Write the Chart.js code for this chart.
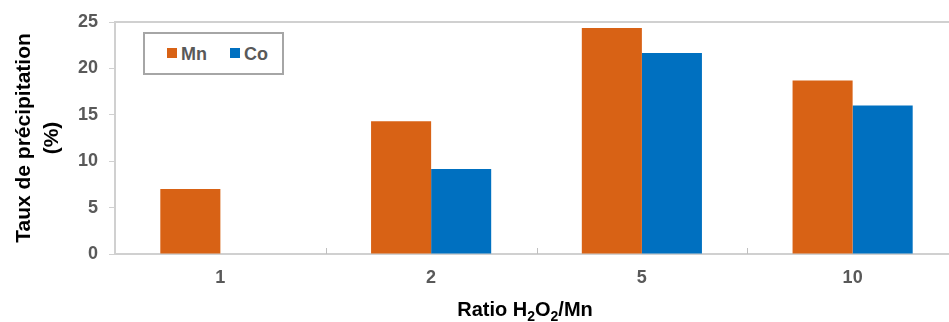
<!DOCTYPE html>
<html>
<head>
<meta charset="utf-8">
<script src="https://cdn.jsdelivr.net/npm/chart.js@4"></script>
<style>
    body { margin: 0; background: #fff; overflow: hidden; }
    #wrap { position: relative; width: 960px; height: 322px; }
    #legend {
        position: absolute; left: 143px; top: 32px; width: 137px; height: 39px;
        border: 2px solid #a6a6a6; background: #fff;
        font: bold 18px "Liberation Sans", Arial, sans-serif; color: #595959;
    }
    #legend span { position: absolute; top: 10px; line-height: normal; }
    #legend i { position: absolute; top: 14px; width: 10px; height: 10px; }
</style>
</head>
<body>
<div id="wrap">
    <canvas id="cnvChart"></canvas>
    <div id="legend"></div>
</div>
<script>
/**
 * DATA
 */
const categories = ['1', '2', '5', '10'];
const mnValues = [7.0, 14.3, 24.35, 18.7];
const coValues = [null, 9.15, 21.65, 16.0];
const yTicks = [0, 5, 10, 15, 20, 25];
const seriesNames = ['Mn', 'Co'];
const seriesColors = ['#d86215', '#0070c0'];
const yTitle = ['Taux de précipitation', '(%)'];
const xTitle = ['Ratio H', '2', 'O', '2', '/Mn'];

const FONT = '"Liberation Sans", Arial, sans-serif';
const AXIS_GREY = '#d0d0d0';

/**
 * fills html legend with series names
 */
function FillLegend() {
    let legend = document.querySelector("#legend");
    let lefts = [22, 85];
    let html = "";
    for (let i = 0; i < seriesNames.length; i++) {
        html += `<i style="left:${lefts[i]}px;background:${seriesColors[i]}"></i>`;
        html += `<span style="left:${lefts[i] + 14}px">${seriesNames[i]}</span>`;
    }
    legend.innerHTML = html;
}

/**
 * draws top border, inner x ticks and x axis title with subscripts
 */
const framePlugin = {
    id: 'frame',
    afterDraw(chart) {
        let ctx = chart.ctx;
        let area = chart.chartArea;
        let x = chart.scales.x;
        ctx.save();
        ctx.strokeStyle = AXIS_GREY;
        ctx.lineWidth = 2;
        ctx.beginPath();
        ctx.moveTo(area.left, area.top);
        ctx.lineTo(area.right + 10, area.top);
        ctx.stroke();

        // tick marks between categories, pointing up
        let half = (x.getPixelForValue(1) - x.getPixelForValue(0)) / 2;
        ctx.lineWidth = 1;
        ctx.strokeStyle = '#bfbfbf';
        for (let i = 0; i < categories.length; i++) {
            let px = Math.round(x.getPixelForValue(i) + half) + 0.5;
            ctx.beginPath();
            ctx.moveTo(px, area.bottom);
            ctx.lineTo(px, area.bottom - 6);
            ctx.stroke();
        }

        // x axis title
        ctx.fillStyle = '#000';
        ctx.textBaseline = 'alphabetic';
        let big = 'bold 20px ' + FONT;
        let small = 'bold 14px ' + FONT;
        let widths = xTitle.map((t, i) => {
            ctx.font = (i % 2 == 1) ? small : big;
            return ctx.measureText(t).width;
        });
        let total = widths.reduce((a, b) => a + b, 0);
        let px = 525 - total / 2;
        for (let i = 0; i < xTitle.length; i++) {
            ctx.font = (i % 2 == 1) ? small : big;
            ctx.fillText(xTitle[i], px, (i % 2 == 1) ? 321 : 316);
            px += widths[i];
        }
        ctx.restore();
    }
};

function PaintChart() {
    let canvas = document.querySelector("#cnvChart");
    let myChart = new Chart(canvas, {
        type: 'bar',
        data: {
            labels: categories,
            datasets: [{
                label: seriesNames[0],
                data: mnValues,
                backgroundColor: seriesColors[0]
            }, {
                label: seriesNames[1],
                data: coValues,
                backgroundColor: seriesColors[1]
            }]
        },
        options: {
            responsive: true,
            maintainAspectRatio: false,
            animation: false,
            layout: { padding: { top: 22, right: 2, left: 0, bottom: 0 } },
            datasets: {
                bar: { categoryPercentage: 0.57, barPercentage: 1.0 }
            },
            plugins: {
                legend: { display: false },
                tooltip: { enabled: false }
            },
            scales: {
                x: {
                    afterFit(scale) { scale.height = 68; },
                    grid: { display: false, drawTicks: false },
                    border: { color: AXIS_GREY, width: 2 },
                    ticks: {
                        padding: 13,
                        color: '#595959',
                        font: { family: FONT, size: 18, weight: 'bold' }
                    }
                },
                y: {
                    min: 0,
                    max: 25,
                    afterFit(scale) { scale.width = 115; },
                    afterBuildTicks(scale) {
                        scale.ticks = yTicks.map(v => ({ value: v }));
                    },
                    grid: { drawOnChartArea: false, tickLength: 6, color: AXIS_GREY },
                    border: { color: AXIS_GREY, width: 2 },
                    ticks: {
                        padding: 11,
                        color: '#595959',
                        font: { family: FONT, size: 18, weight: 'bold' }
                    },
                    title: {
                        display: true,
                        text: yTitle,
                        color: '#000',
                        padding: { top: 10, bottom: 0 },
                        font: { family: FONT, size: 21, weight: 'bold', lineHeight: 1.33 }
                    }
                }
            }
        },
        plugins: [framePlugin]
    });
}

FillLegend();
PaintChart();
</script>
</body>
</html>
